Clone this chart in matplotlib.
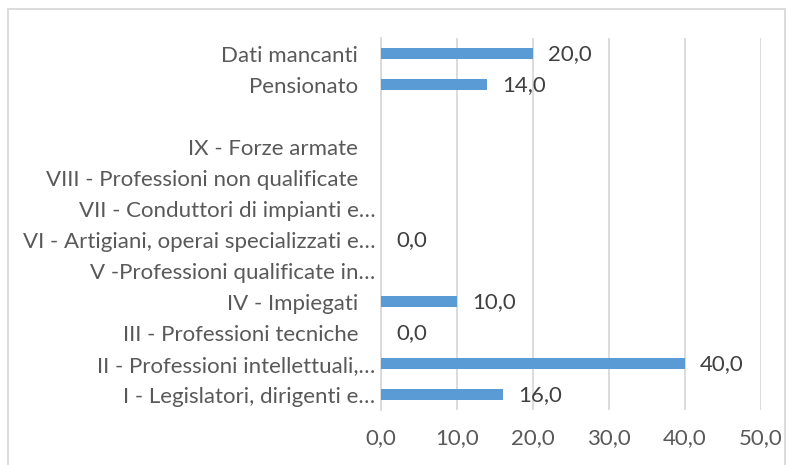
import numpy as np
import matplotlib
matplotlib.use('Agg')
import matplotlib.pyplot as plt
from matplotlib.patches import Rectangle

plt.rcParams['font.family'] = ['Lato', 'DejaVu Sans']
plt.rcParams['font.size'] = 16

# categories from bottom to top
categorie = ['I - Legislatori, dirigenti e…',
             'II - Professioni intellettuali,…',
             'III - Professioni tecniche   ',
             'IV - Impiegati   ',
             'V -Professioni qualificate in…',
             'VI - Artigiani, operai specializzati e…',
             'VII - Conduttori di impianti e…',
             'VIII - Professioni non qualificate   ',
             'IX - Forze armate   ',
             '',
             'Pensionato   ',
             'Dati mancanti   ']
valori = [16.0, 40.0, 0.0, 10.0, np.nan, 0.0, np.nan, np.nan, np.nan, np.nan, 14.0, 20.0]
xticks = [0, 10, 20, 30, 40, 50]

fig = plt.figure(figsize=(7.96, 4.65), dpi=100)
ax = fig.add_axes([0.4786, 0.118, 0.4774, 0.800])

y = np.arange(len(categorie))
ax.barh(y, valori, height=0.36, color='#5b9bd5', zorder=3)

for yi, v in zip(y, valori):
    if not np.isnan(v):
        ax.annotate(f'{v:.1f}'.replace('.', ','), (v, yi), xytext=(11, 0),
                    textcoords='offset points', va='center', ha='left',
                    color='#404040', fontsize=16)

ax.set_xlim(0, 50)
ax.set_ylim(-0.5, len(categorie) - 0.5)
ax.set_xticks(xticks)
ax.set_xticklabels([f'{t:.1f}'.replace('.', ',') for t in xticks])
ax.set_yticks(y)
ax.set_yticklabels(categorie)
ax.tick_params(axis='both', length=0, colors='#595959', labelsize=16)
ax.tick_params(axis='x', pad=13)
ax.tick_params(axis='y', pad=4)
ax.xaxis.grid(True, color='#d9d9d9', lw=1.3, zorder=0)
for s in ['top', 'right', 'bottom']:
    ax.spines[s].set_visible(False)
ax.spines['left'].set_color('#d9d9d9')
ax.spines['left'].set_linewidth(1.3)

# chart border
fig.patches.append(Rectangle((8 / 796, -0.01), 777 / 796, 1 - 9 / 465 + 0.01,
                             transform=fig.transFigure, fill=False,
                             edgecolor='#d9d9d9', lw=1.3))

fig.savefig('out.png', dpi=100)
